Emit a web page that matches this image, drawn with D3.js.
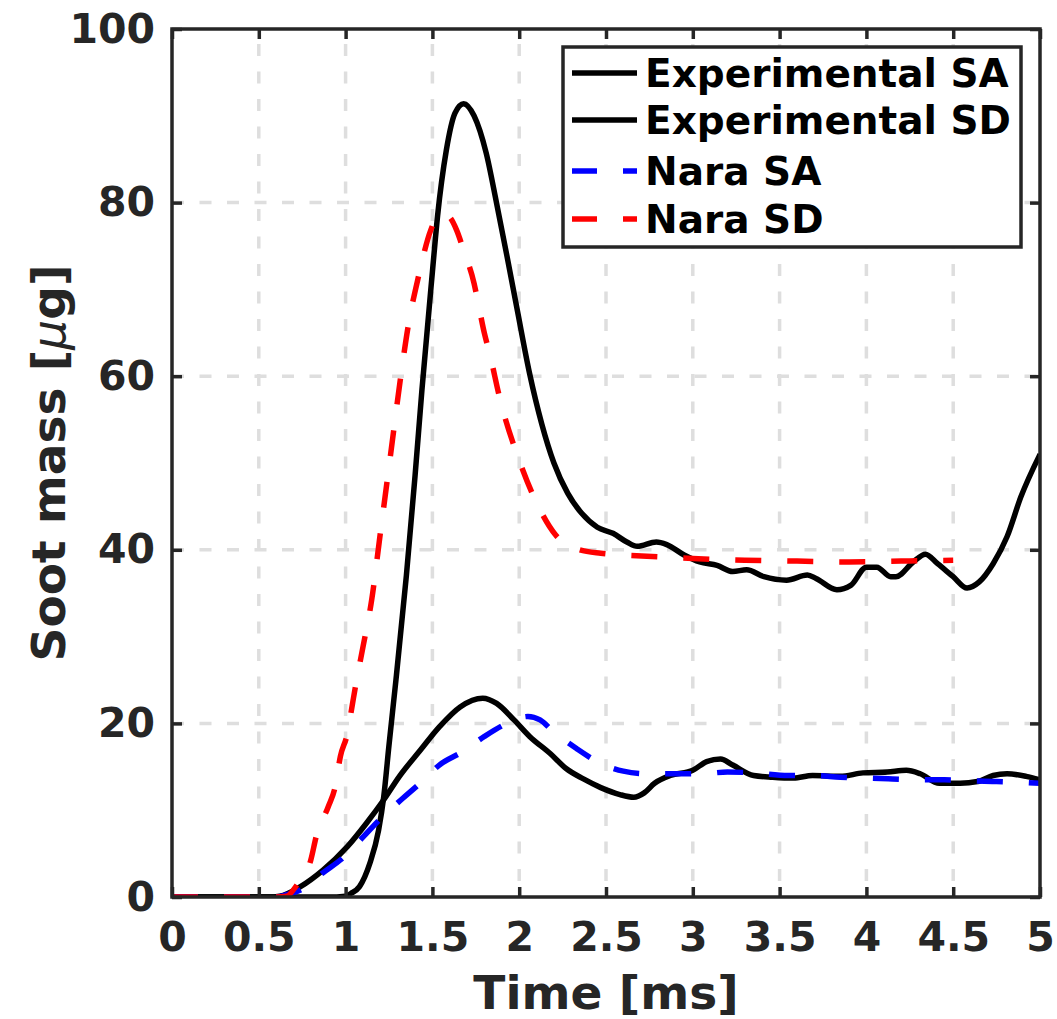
<!DOCTYPE html>
<html>
<head>
<meta charset="utf-8">
<script src="https://cdn.jsdelivr.net/npm/d3@7"></script>
<style>
  html, body { margin: 0; padding: 0; background: #fff; }
  svg { display: block; }
  text { font-family: "DejaVu Sans", sans-serif; font-weight: bold; }
</style>
</head>
<body>
<svg id="chart" width="1057" height="1019"></svg>
<script>
// Soot mass histories [µg] versus time after start of injection [ms]

// Experimental, SA condition
const expSA_t = [0, 0.55, 0.62, 0.74, 0.87, 1.01, 1.12, 1.22, 1.31, 1.43, 1.54, 1.66, 1.79, 1.87, 1.97, 2.06, 2.18, 2.27, 2.37, 2.47, 2.58, 2.66, 2.72, 2.78, 2.87, 3.00, 3.08, 3.16, 3.23, 3.35, 3.46, 3.58, 3.69, 3.85, 3.98, 4.12, 4.23, 4.31, 4.42, 4.54, 4.64, 4.73, 4.81, 4.92, 5.0];
const expSA_v = [0, 0, 0.1, 1.2, 3.1, 5.8, 8.5, 11.2, 13.9, 16.9, 19.6, 21.9, 22.9, 22.3, 20.4, 18.5, 16.5, 14.8, 13.6, 12.6, 11.8, 11.5, 12.0, 13.1, 14.0, 14.6, 15.6, 15.9, 15.2, 14.0, 13.8, 13.7, 14.0, 13.9, 14.3, 14.4, 14.6, 14.2, 13.1, 13.1, 13.3, 14.0, 14.2, 13.9, 13.5];

// Experimental, SD condition
const expSD_t = [0, 0.9, 1.0, 1.03, 1.08, 1.14, 1.19, 1.22, 1.25, 1.29, 1.35, 1.40, 1.44, 1.50, 1.53, 1.58, 1.63, 1.68, 1.74, 1.81, 1.87, 1.93, 1.99, 2.06, 2.13, 2.20, 2.28, 2.36, 2.45, 2.54, 2.62, 2.68, 2.79, 2.85, 2.95, 3.04, 3.14, 3.23, 3.31, 3.41, 3.54, 3.66, 3.71, 3.83, 3.91, 4.00, 4.06, 4.14, 4.17, 4.27, 4.34, 4.41, 4.50, 4.58, 4.65, 4.73, 4.81, 4.89, 5.0];
const expSD_v = [0, 0, 0.1, 0.4, 1.2, 3.9, 7.7, 11.6, 17.5, 25.0, 37.0, 48.5, 58.5, 72.0, 78.5, 86.0, 90.3, 91.4, 90.0, 85.7, 79.9, 73.8, 67.5, 60.3, 54.5, 50.0, 46.5, 44.2, 42.6, 41.9, 40.9, 40.4, 40.9, 40.6, 39.4, 38.6, 38.2, 37.5, 37.7, 36.9, 36.5, 37.1, 36.7, 35.4, 35.9, 38.0, 38.0, 36.9, 36.9, 38.6, 39.5, 38.4, 36.9, 35.6, 36.3, 38.4, 41.5, 46.1, 51.0];

// Nara model, SA condition
const naraSA_t = [0, 0.6, 0.68, 0.74, 0.87, 0.99, 1.10, 1.21, 1.32, 1.44, 1.54, 1.67, 1.80, 1.93, 2.05, 2.12, 2.20, 2.33, 2.45, 2.60, 2.74, 2.90, 3.05, 3.20, 3.35, 3.55, 3.70, 3.85, 4.00, 4.15, 4.30, 4.45, 4.60, 4.75, 4.90, 5.0];
const naraSA_v = [0, 0, 0.4, 0.8, 2.8, 4.6, 6.9, 9.2, 11.2, 13.3, 15.2, 16.7, 18.5, 20.0, 20.8, 20.4, 19.0, 17.1, 15.6, 14.5, 14.2, 14.2, 14.2, 14.4, 14.3, 14.0, 14.0, 13.8, 13.7, 13.6, 13.5, 13.5, 13.4, 13.3, 13.2, 13.1];

// Nara model, SD condition
const naraSD_t = [0, 0.6, 0.66, 0.72, 0.80, 0.83, 0.90, 0.94, 0.97, 1.01, 1.04, 1.06, 1.10, 1.15, 1.20, 1.26, 1.32, 1.36, 1.42, 1.49, 1.53, 1.57, 1.60, 1.64, 1.68, 1.74, 1.76, 1.80, 1.83, 1.89, 2.00, 2.12, 2.21, 2.32, 2.47, 2.60, 2.80, 3.00, 3.30, 3.60, 3.90, 4.20, 4.50];
const naraSD_v = [0, 0, 0.1, 1.4, 4.3, 6.9, 10.4, 12.7, 16.2, 18.8, 22.3, 24.6, 28.8, 34.2, 41.9, 51.1, 60.3, 65.7, 71.5, 76.8, 78.4, 78.6, 78.3, 76.8, 74.5, 70.7, 68.8, 64.9, 62.6, 57.3, 50.3, 44.6, 41.7, 40.2, 39.6, 39.4, 39.2, 39.0, 38.8, 38.7, 38.6, 38.7, 38.8];

const seriesNames = ["Experimental SA", "Experimental SD", "Nara SA", "Nara SD"];

const xTicks = [0, 0.5, 1, 1.5, 2, 2.5, 3, 3.5, 4, 4.5, 5];
const yTicks = [0, 20, 40, 60, 80, 100];
const xTickLabels = ["0", "0.5", "1", "1.5", "2", "2.5", "3", "3.5", "4", "4.5", "5"];
const yTickLabels = ["0", "20", "40", "60", "80", "100"];

const xLabel = "Time [ms]";
const yLabelMain = "Soot mass [";
const yLabelUnit = "\u03BC";
const yLabelEnd = "g]";

// ---- layout ----
const plotLeft = 172, plotRight = 1040, plotTop = 29, plotBottom = 897;
const axisColor = "#262626";

const svg = d3.select("#chart");

const x = d3.scaleLinear().domain([0, 5]).range([plotLeft, plotRight]);
const y = d3.scaleLinear().domain([0, 100]).range([plotBottom, plotTop]);

// grid
const grid = svg.append("g").attr("class", "grid")
  .attr("stroke", "#dedede").attr("stroke-width", 3.5)
  .attr("stroke-dasharray", "12,15.5");
grid.selectAll("line.v").data(xTicks.slice(1, -1)).join("line")
  .attr("class", "v")
  .attr("x1", d => x(d)).attr("x2", d => x(d))
  .attr("y1", plotBottom).attr("y2", plotTop)
  .attr("stroke-dashoffset", 11.6);
grid.selectAll("line.h").data(yTicks.slice(1, -1)).join("line")
  .attr("class", "h")
  .attr("x1", plotLeft).attr("x2", plotRight)
  .attr("y1", d => y(d)).attr("y2", d => y(d));

// data lines
svg.append("clipPath").attr("id", "plotClip")
  .append("rect").attr("x", plotLeft).attr("y", plotTop)
  .attr("width", plotRight - plotLeft).attr("height", plotBottom - plotTop);

const line = d3.line()
  .x(d => x(d[0])).y(d => y(d[1]))
  .curve(d3.curveMonotoneX);

const series = [
  { name: seriesNames[0], t: expSA_t, v: expSA_v, color: "#000000", dash: null },
  { name: seriesNames[1], t: expSD_t, v: expSD_v, color: "#000000", dash: null },
  { name: seriesNames[2], t: naraSA_t, v: naraSA_v, color: "#0000ff", dash: "26,26" },
  { name: seriesNames[3], t: naraSD_t, v: naraSD_v, color: "#ff0000", dash: "26,26" }
];

const plot = svg.append("g").attr("clip-path", "url(#plotClip)");
series.forEach(s => {
  plot.append("path")
    .datum(d3.zip(s.t, s.v))
    .attr("fill", "none")
    .attr("stroke", s.color)
    .attr("stroke-width", 5.5)
    .attr("stroke-linejoin", "round")
    .attr("stroke-dasharray", s.dash)
    .attr("d", line);
});

// axes (ticks pointing inward, box on)
const fmtX = d => xTickLabels[xTicks.indexOf(d)];
const fmtY = d => yTickLabels[yTicks.indexOf(d)];

function styleAxis(g) {
  g.select(".domain").remove();
  g.selectAll(".tick line").attr("stroke", axisColor).attr("stroke-width", 3.5);
  g.selectAll(".tick text")
    .attr("fill", axisColor)
    .style("font-family", "'DejaVu Sans', sans-serif")
    .style("font-weight", "bold")
    .style("font-size", "41px");
}

svg.append("g").attr("transform", `translate(0,${plotBottom})`)
  .call(d3.axisBottom(x).tickValues(xTicks).tickFormat(fmtX).tickSizeInner(-10).tickSizeOuter(0).tickPadding(25))
  .call(styleAxis);
svg.append("g").attr("transform", `translate(0,${plotTop})`)
  .call(d3.axisTop(x).tickValues(xTicks).tickFormat("").tickSizeInner(-10).tickSizeOuter(0))
  .call(styleAxis);
svg.append("g").attr("transform", `translate(${plotLeft},0)`)
  .call(d3.axisLeft(y).tickValues(yTicks).tickFormat(fmtY).tickSizeInner(-10).tickSizeOuter(0).tickPadding(17))
  .call(styleAxis);
svg.append("g").attr("transform", `translate(${plotRight},0)`)
  .call(d3.axisRight(y).tickValues(yTicks).tickFormat("").tickSizeInner(-10).tickSizeOuter(0))
  .call(styleAxis);

// frame
svg.append("rect")
  .attr("x", plotLeft).attr("y", plotTop)
  .attr("width", plotRight - plotLeft).attr("height", plotBottom - plotTop)
  .attr("fill", "none").attr("stroke", axisColor).attr("stroke-width", 3.5);

// axis labels
svg.append("text")
  .attr("x", (plotLeft + plotRight) / 2).attr("y", 1009)
  .attr("text-anchor", "middle")
  .attr("fill", axisColor)
  .style("font-size", "47px")
  .text(xLabel);

const yl = svg.append("text")
  .attr("transform", `translate(65,${(plotTop + plotBottom) / 2}) rotate(-90)`)
  .attr("text-anchor", "middle")
  .attr("fill", axisColor)
  .style("font-size", "47px");
yl.append("tspan").text(yLabelMain);
yl.append("tspan").style("font-style", "italic").style("font-weight", "normal").text(yLabelUnit);
yl.append("tspan").text(yLabelEnd);

// legend
const legend = svg.append("g").attr("class", "legend");
legend.append("rect")
  .attr("x", 563).attr("y", 47).attr("width", 458).attr("height", 200)
  .attr("fill", "#fff").attr("stroke", axisColor).attr("stroke-width", 3.5);
const rowY = [73, 120, 171, 219];
series.forEach((s, i) => {
  legend.append("line")
    .attr("x1", 572).attr("x2", 637)
    .attr("y1", rowY[i]).attr("y2", rowY[i])
    .attr("stroke", s.color).attr("stroke-width", 5.5)
    .attr("stroke-dasharray", s.dash ? "25,26" : null);
  legend.append("text")
    .attr("x", 645).attr("y", rowY[i] + 14)
    .attr("fill", "#000")
    .style("font-size", "39px")
    .text(s.name);
});
</script>
</body>
</html>
